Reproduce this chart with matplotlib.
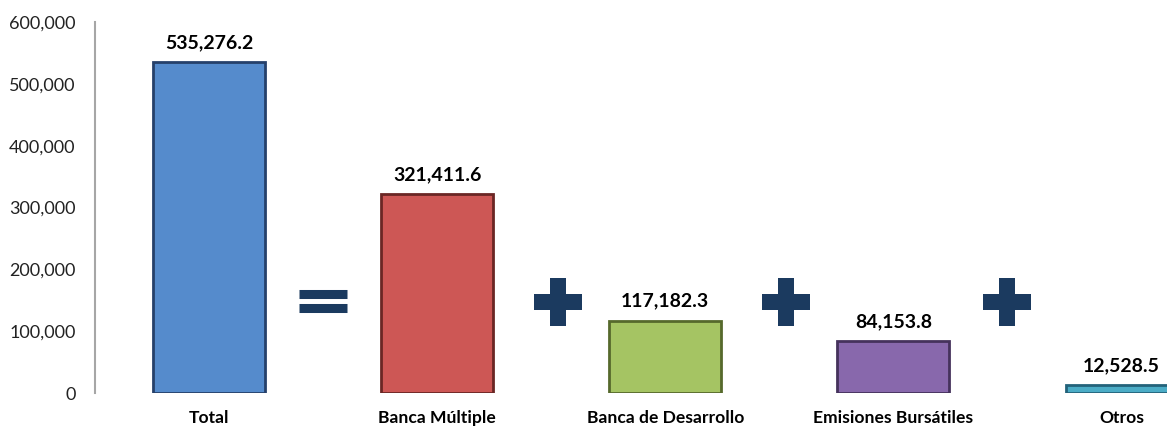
import matplotlib.pyplot as plt
from matplotlib.ticker import FuncFormatter

categories = ["Total", "Banca Múltiple", "Banca de Desarrollo", "Emisiones Bursátiles", "Otros"]
values = [535276.2, 321411.6, 117182.3, 84153.8, 12528.5]
value_labels = ["535,276.2", "321,411.6", "117,182.3", "84,153.8", "12,528.5"]
operators = ["=", "+", "+", "+"]
y_ticks = [0, 100000, 200000, 300000, 400000, 500000, 600000]

face_colors = ["#558bcc", "#cd5755", "#a5c463", "#8868ac", "#4bacc6"]
edge_colors = ["#25406a", "#6a2624", "#56692c", "#45325c", "#23627a"]
navy = "#1b3a5f"

plt.rcParams["font.family"] = ["Lato", "DejaVu Sans"]

fig = plt.figure(figsize=(11.67, 4.26), dpi=100)
ax = fig.add_axes([95 / 1167, 33 / 426, 1072 / 1167, 371 / 426])

x = list(range(len(categories)))
ax.bar(x, values, width=0.49, color=face_colors, edgecolor=edge_colors, linewidth=2.0)

for xi, v, lab in zip(x, values, value_labels):
    ax.annotate(lab, (xi, v), xytext=(0, 8), textcoords="offset points",
                ha="center", va="bottom", fontsize=14, fontweight="bold", color="black")

# operator signs between the bars
sym_y = 147000
for i, op in enumerate(operators):
    if op == "+":
        ax.plot(i + 0.5 + (0.03 if i in (1, 2) else 0.0), sym_y, marker="P", markersize=34,
                color=navy, markeredgewidth=0, clip_on=False)
    else:
        ax.plot(i + 0.5, 160000, marker="_", markersize=35, markeredgewidth=6.5,
                color=navy, clip_on=False)
        ax.plot(i + 0.5, 137000, marker="_", markersize=35, markeredgewidth=6.5,
                color=navy, clip_on=False)

ax.set_xlim(-0.5, 4.2)
ax.set_ylim(0, 600000)
ax.set_yticks(y_ticks)
ax.yaxis.set_major_formatter(FuncFormatter(lambda v, p: f"{int(v):,}"))
ax.set_xticks(x)
ax.set_xticklabels(categories, fontsize=12.6, fontweight="bold")
ax.tick_params(axis="y", length=0, labelsize=13, labelcolor="#222222", pad=14)
ax.tick_params(axis="x", length=0, pad=12)

for side in ["top", "right", "bottom"]:
    ax.spines[side].set_visible(False)
ax.spines["left"].set_color("#a6a6a6")
ax.spines["left"].set_linewidth(1.5)

fig.savefig("out.png", dpi=100)
